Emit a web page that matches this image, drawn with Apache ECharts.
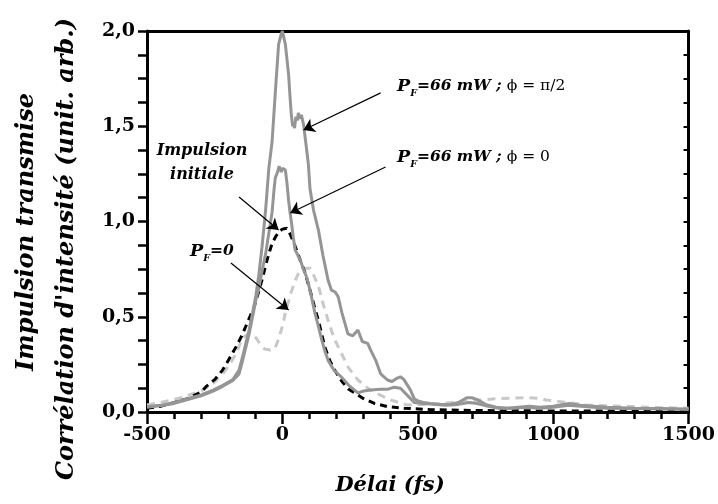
<!DOCTYPE html>
<html><head><meta charset="utf-8">
<script src="https://cdn.jsdelivr.net/npm/echarts@6/dist/echarts.min.js"></script>
<style>html,body{margin:0;padding:0;background:#fff;overflow:hidden}#c{width:718px;height:504px}</style>
</head><body><div id="c"></div>
<script>
// ---- data ----
const xTicks = [-500, 0, 500, 1000, 1500];
const yTicks = [0, 0.5, 1.0, 1.5, 2.0];

const piHalfX = [-500,-440,-400,-343,-300,-256,-220,-183,-160,-147,-135,-123,-110,-98,-87,-75,-62,-50,-38,-26,-14,-5,0,5,11,17,23,28,33,38,41,45,50,55,59,65,70,78,86,96,102,115,133,150,169,181,187,195,206,220,242,260,279,295,315,326,345,363,388,405,420,436,449,473,487,498,520,546,580,620,650,681,700,720,750,790,830,870,912,950,1000,1058,1100,1200,1300,1400,1500];
const piHalfY = [0.028,0.037,0.05,0.073,0.09,0.115,0.14,0.17,0.22,0.29,0.36,0.43,0.52,0.61,0.72,0.87,1.06,1.28,1.42,1.68,1.93,1.98,2.0,1.99,1.93,1.85,1.77,1.66,1.56,1.50,1.52,1.49,1.55,1.53,1.57,1.54,1.56,1.51,1.42,1.30,1.17,1.06,0.955,0.82,0.69,0.64,0.645,0.63,0.605,0.52,0.41,0.40,0.43,0.37,0.36,0.325,0.27,0.20,0.168,0.16,0.175,0.185,0.17,0.115,0.07,0.06,0.05,0.045,0.04,0.04,0.05,0.075,0.075,0.065,0.04,0.025,0.02,0.025,0.03,0.025,0.03,0.045,0.035,0.025,0.02,0.018,0.015];

const phi0X = [-500,-440,-400,-343,-300,-256,-220,-183,-160,-147,-135,-123,-110,-98,-87,-75,-62,-50,-38,-30,-26,-18,-12,-8,-4,0,5,11,17,23,28,34,40,47,55,59,66,75,89,96,108,120,133,145,157,169,190,217,245,279,300,327,360,390,413,436,460,487,520,560,600,650,690,720,760,800,850,900,950,1000,1058,1100,1200,1300,1400,1500];
const phi0Y = [0.025,0.035,0.045,0.068,0.085,0.11,0.135,0.165,0.2,0.27,0.34,0.41,0.50,0.59,0.65,0.74,0.83,0.94,1.05,1.18,1.23,1.26,1.29,1.30,1.26,1.28,1.29,1.27,1.20,1.11,1.05,0.99,0.92,0.85,0.83,0.815,0.80,0.76,0.71,0.675,0.60,0.52,0.45,0.38,0.32,0.27,0.22,0.185,0.14,0.10,0.11,0.115,0.12,0.12,0.13,0.125,0.09,0.05,0.045,0.04,0.035,0.04,0.05,0.045,0.03,0.02,0.02,0.025,0.02,0.025,0.035,0.03,0.02,0.018,0.016,0.015];

const initX = [-500,-450,-405,-350,-300,-282,-250,-221,-200,-172,-150,-135,-120,-105,-90,-76,-60,-50,-38,-25,-10,0,16,30,47,65,84,100,117,133,145,157,175,193,220,245,267,300,340,388,450,550,700,900,1100,1300,1500];
const initY = [0.02,0.03,0.047,0.07,0.105,0.133,0.17,0.22,0.27,0.34,0.40,0.45,0.50,0.55,0.62,0.69,0.78,0.83,0.885,0.92,0.95,0.96,0.965,0.93,0.87,0.80,0.73,0.65,0.56,0.48,0.41,0.34,0.27,0.22,0.16,0.12,0.10,0.07,0.045,0.028,0.02,0.012,0.008,0.006,0.005,0.005,0.005];

const pf0X = [-500,-450,-400,-366,-300,-256,-220,-190,-170,-147,-125,-111,-95,-80,-65,-45,-28,-15,0,11,30,47,60,71,85,102,115,133,150,169,190,217,245,279,320,360,400,461,520,580,640,700,730,790,852,900,950,973,1035,1080,1120,1200,1267,1350,1420,1500];
const pf0Y = [0.037,0.05,0.065,0.08,0.11,0.15,0.2,0.26,0.31,0.39,0.41,0.41,0.385,0.35,0.33,0.325,0.33,0.38,0.45,0.52,0.62,0.69,0.73,0.745,0.755,0.755,0.72,0.66,0.57,0.48,0.39,0.31,0.23,0.168,0.12,0.09,0.063,0.037,0.04,0.045,0.05,0.06,0.063,0.07,0.073,0.075,0.072,0.063,0.053,0.045,0.037,0.033,0.03,0.025,0.022,0.02];

// annotation arrows: [startX, startY, endX, endY] in data units
const arrows = [
  [363, 1.675, 78, 1.48],
  [381, 1.286, 29, 1.045],
  [-160, 1.129, -14, 0.955],
  [-190, 0.782, 23, 0.535]
];

function pairs(xs, ys){ return xs.map((x,i)=>[x, ys[i]]); }

const SERIF = '"DejaVu Serif", "Liberation Serif", serif';
const chart = echarts.init(document.getElementById('c'), null, {renderer:'canvas', width:718, height:504});

const lineBase = {type:'line', showSymbol:false, symbol:'none', animation:false, silent:true, z:3};

function richLabel(size){
  return {
    p:{font:'italic bold '+(size+2)+'px '+SERIF, fill:'#000', verticalAlign:'middle', lineHeight:26},
    s:{font:'italic bold '+(size-6)+'px '+SERIF, fill:'#000', verticalAlign:'bottom', lineHeight:26},
    b:{font:'italic bold '+size+'px '+SERIF, fill:'#000', verticalAlign:'middle', lineHeight:26},
    r:{font:size+'px '+SERIF, fill:'#000', verticalAlign:'middle', lineHeight:26}
  };
}

chart.setOption({
  backgroundColor:'#fff',
  animation:false,
  grid:{left:147, right:20, top:31, bottom:92, containLabel:false},
  xAxis:[{
    type:'value', min:-500, max:1500, interval:500, position:'bottom',
    axisLine:{show:true, onZero:false, lineStyle:{color:'#000', width:3}},
    axisTick:{show:true, length:12, lineStyle:{color:'#000', width:2.5}},
    minorTick:{show:true, splitNumber:5, length:7, lineStyle:{color:'#000', width:2.5}},
    splitLine:{show:false},
    axisLabel:{margin:14, color:'#000', fontFamily:SERIF, fontWeight:'bold', fontSize:19,
      formatter:v=> xTicks.includes(v) ? String(v) : ''}
  },{
    type:'value', min:-500, max:1500, position:'top',
    axisLine:{show:true, onZero:false, lineStyle:{color:'#000', width:3}},
    axisTick:{show:false}, axisLabel:{show:false}, splitLine:{show:false}
  }],
  yAxis:[{
    type:'value', min:0, max:2, interval:0.5, position:'left',
    axisLine:{show:true, onZero:false, lineStyle:{color:'#000', width:3}},
    axisTick:{show:true, length:9, lineStyle:{color:'#000', width:2.5}},
    minorTick:{show:true, splitNumber:4, length:9, lineStyle:{color:'#000', width:2.5}},
    splitLine:{show:false},
    axisLabel:{margin:12, color:'#000', fontFamily:SERIF, fontWeight:'bold', fontSize:19,
      formatter:v=> yTicks.some(t=>Math.abs(t-v)<1e-9) ? v.toFixed(1).replace('.', ',') : ''}
  },{
    type:'value', min:0, max:2, interval:0.5, position:'right',
    axisLine:{show:true, onZero:false, lineStyle:{color:'#000', width:3}},
    axisTick:{show:true, inside:true, length:5, lineStyle:{color:'#000', width:2}},
    minorTick:{show:true, splitNumber:4, length:5, lineStyle:{color:'#000', width:2}},
    axisLabel:{show:false}, splitLine:{show:false}
  }],
  series:[
    Object.assign({}, lineBase, {name:'PF=0', data:pairs(pf0X, pf0Y),
      lineStyle:{color:'#c8c8c8', width:3, type:[8,6]}}),
    Object.assign({}, lineBase, {name:'initiale', data:pairs(initX, initY),
      lineStyle:{color:'#000', width:3, type:[7,5]}}),
    Object.assign({}, lineBase, {name:'phi0', data:pairs(phi0X, phi0Y),
      lineStyle:{color:'#959595', width:3}}),
    Object.assign({}, lineBase, {name:'pi2', data:pairs(piHalfX, piHalfY),
      lineStyle:{color:'#959595', width:3}}),
    {type:'line', name:'arrows', data:[], z:10, silent:true, animation:false,
      markLine:{silent:true, animation:false, symbol:['none','arrow'], symbolSize:11,
        label:{show:false}, emphasis:{disabled:true},
        lineStyle:{color:'#000', width:1.2, type:'solid'},
        itemStyle:{color:'#000'},
        data: arrows.map(a=>[{coord:[a[0],a[1]]},{coord:[a[2],a[3]]}])}
    }
  ],
  graphic:[
    {type:'text', x:27, y:232, rotation:Math.PI/2, style:{text:'Impulsion transmise',
      font:'italic bold 24px '+SERIF, fill:'#000', textAlign:'center', textVerticalAlign:'middle'}},
    {type:'text', x:67, y:249, rotation:Math.PI/2, style:{text:"Corrélation d'intensité (unit. arb.)",
      font:'italic bold 24px '+SERIF, fill:'#000', textAlign:'center', textVerticalAlign:'middle'}},
    {type:'text', x:390, y:486, style:{text:'Délai (fs)',
      font:'italic bold 21px '+SERIF, fill:'#000', textAlign:'center', textVerticalAlign:'middle'}},
    {type:'text', x:202, y:163, style:{text:'Impulsion\ninitiale', lineHeight:24,
      font:'italic bold 16px '+SERIF, fill:'#000', textAlign:'center', textVerticalAlign:'middle'}},
    {type:'text', x:397, y:86, style:{text:'{p|P}{s|F}{b|=66 mW ;}{r| \u03d5 = \u03c0/2}', textVerticalAlign:'middle',
      rich:richLabel(15.5)}},
    {type:'text', x:397, y:157, style:{text:'{p|P}{s|F}{b|=66 mW ;}{r| \u03d5 = 0}', textVerticalAlign:'middle',
      rich:richLabel(15.5)}},
    {type:'text', x:190, y:251, style:{text:'{p|P}{s|F}{b|=0}', textVerticalAlign:'middle',
      rich:richLabel(15.5)}}
  ]
});
</script>
</body></html>
